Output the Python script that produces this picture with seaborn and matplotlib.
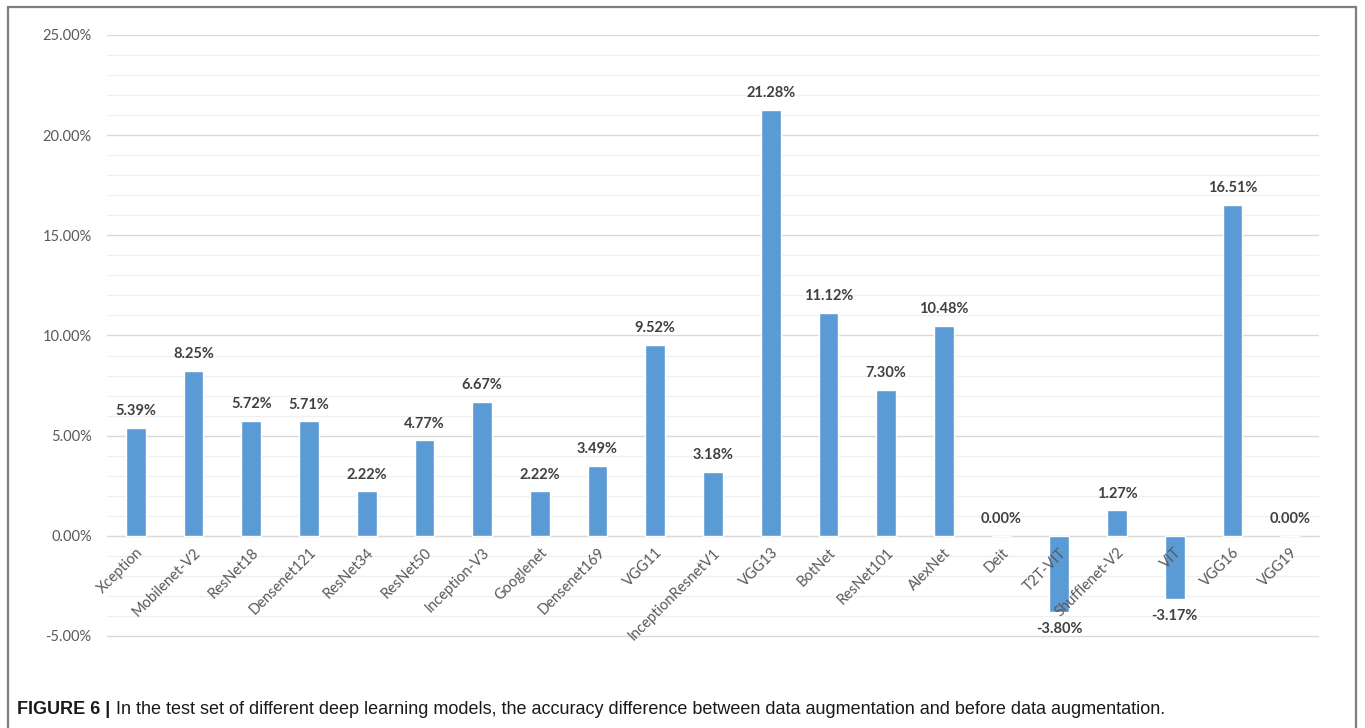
import matplotlib
matplotlib.use("Agg")
import matplotlib.pyplot as plt
from matplotlib.patches import Rectangle
from matplotlib.ticker import FuncFormatter, MultipleLocator, FixedLocator
import seaborn as sns
import pandas as pd
import numpy as np

models = ["Xception", "Mobilenet-V2", "ResNet18", "Densenet121", "ResNet34",
          "ResNet50", "Inception-V3", "Googlenet", "Densenet169", "VGG11",
          "InceptionResnetV1", "VGG13", "BotNet", "ResNet101", "AlexNet",
          "Deit", "T2T-VIT", "Shufflenet-V2", "VIT", "VGG16", "VGG19"]
acc_diff = [5.39, 8.25, 5.72, 5.71, 2.22, 4.77, 6.67, 2.22, 3.49, 9.52,
            3.18, 21.28, 11.12, 7.30, 10.48, 0.00, -3.80, 1.27, -3.17, 16.51, 0.00]
y_ticks = [-5, 0, 5, 10, 15, 20, 25]

caption_head = "FIGURE 6 |"
caption_body = ("In the test set of different deep learning models, the accuracy difference "
                "between data augmentation and before data augmentation.")

df = pd.DataFrame({"model": models, "diff": acc_diff})

sns.set_style("white")
plt.rcParams["font.family"] = ["Lato", "DejaVu Sans"]

fig = plt.figure(figsize=(13.65, 7.28), dpi=100)
ax = fig.add_axes([107 / 1365, 1 - 656 / 728, (1319 - 107) / 1365, (656 - 35) / 728])

sns.barplot(data=df, x="model", y="diff", color="#5B9BD5", saturation=1,
            width=0.34, ax=ax, zorder=2)

ax.set_ylim(-6, 25)
ax.set_xlim(-0.5, len(models) - 0.5)
ax.set_xlabel("")
ax.set_ylabel("")

# gridlines: major every 5%, faint minor every 1%
ax.yaxis.set_major_locator(FixedLocator(y_ticks))
ax.yaxis.set_minor_locator(MultipleLocator(1))
ax.yaxis.set_major_formatter(FuncFormatter(lambda v, p: f"{v:.2f}%"))
ax.grid(axis="y", which="major", color="#d9d9d9", lw=1.0)
ax.grid(axis="y", which="minor", color="#f0f0f0", lw=1.0)
ax.set_axisbelow(True)
# category labels sit on top of the bars
ax.xaxis.set_zorder(5)

for s in ["top", "right", "left"]:
    ax.spines[s].set_visible(False)
ax.spines["bottom"].set_position(("data", 0))
ax.spines["bottom"].set_color("#d9d9d9")
ax.spines["bottom"].set_zorder(1)

ax.tick_params(axis="y", which="both", length=0, labelsize=10.5,
               labelcolor="#595959", pad=11)
ax.tick_params(axis="x", which="major", length=0, labelsize=10.5,
               labelcolor="#595959", pad=7)
ax.set_xticks(np.arange(-0.5, len(models), 1.0), minor=True)
ax.tick_params(axis="x", which="minor", length=5, color="#d9d9d9", direction="out")
plt.setp(ax.get_xticklabels(), rotation=45, ha="right", rotation_mode="anchor")

for i, v in enumerate(acc_diff):
    if v >= 0:
        ax.annotate(f"{v:.2f}%", (i, v), xytext=(0, 7), textcoords="offset points",
                    ha="center", va="bottom", fontsize=10.5, fontweight="bold",
                    color="#404040")
    else:
        ax.annotate(f"{v:.2f}%", (i, v), xytext=(0, -7), textcoords="offset points",
                    ha="center", va="top", fontsize=10.5, fontweight="bold",
                    color="#404040")

# outer frame
fig.patches.append(Rectangle((8 / 1365, -0.05), (1356 - 8) / 1365, 1.05 - 7 / 728,
                             transform=fig.transFigure, fill=False,
                             edgecolor="#7f7f7f", lw=1.6))

# caption
t1 = fig.text(17 / 1365, 1 - 710 / 728, caption_head, fontsize=13, fontweight="bold",
              family="Liberation Sans", color="#1a1a1a", va="center", ha="left")
fig.canvas.draw()
bb = t1.get_window_extent()
fig.text((bb.x1 + 6) / 1365, 1 - 710 / 728, caption_body, fontsize=13,
         family="Liberation Sans", color="#1a1a1a", va="center", ha="left")

fig.savefig("out.png", dpi=100)
